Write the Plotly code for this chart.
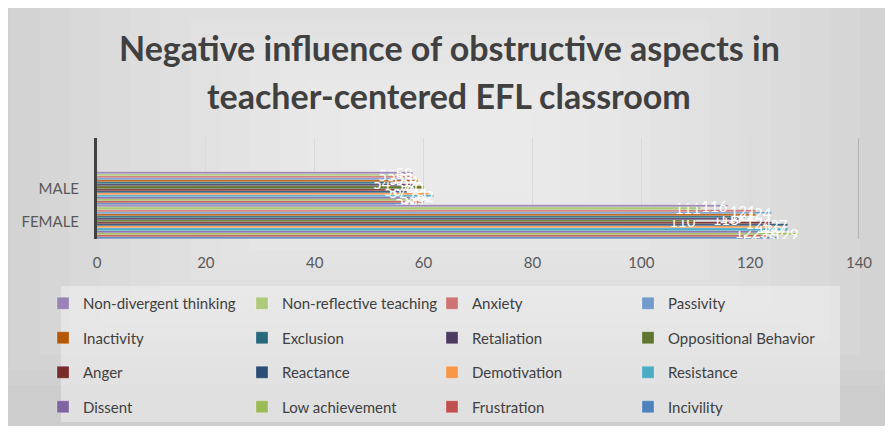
import plotly.graph_objects as go

# ---------------- data ----------------
categories = ["FEMALE", "MALE"]  # bottom to top
series = ["Incivility", "Frustration", "Low achievement", "Dissent", "Resistance",
          "Demotivation", "Reactance", "Anger", "Oppositional Behavior", "Retaliation",
          "Exclusion", "Inactivity", "Passivity", "Anxiety", "Non-reflective teaching",
          "Non-divergent thinking"]
female_values = [125, 123, 129, 122, 127, 126, 127, 124, 110, 118, 119, 121, 124, 121, 111, 116]
male_values = [59, 60, 58, 59, 62, 61, 57, 56, 60, 58, 54, 59, 57, 58, 55, 58]
colors = ["#4F81BD", "#C0504D", "#9BBB59", "#8064A2", "#4BACC6", "#F79646",
          "#2C4D75", "#772C2A", "#5F7530", "#4D3B62", "#276A7C", "#B65708",
          "#729ACA", "#CD7371", "#AFC97A", "#9983B5"]
x_ticks = [0, 20, 40, 60, 80, 100, 120, 140]
title_lines = ["Negative influence of obstructive aspects in", "teacher-centered EFL classroom"]

# ---------------- layout geometry ----------------
OFF = 8                      # page body margin
W, H = 893 - OFF, 432 - OFF  # figure size
# plot area in screen pixels -> figure pixels
L, R, T, B = 97 - OFF, 859 - OFF, 138 - OFF, 239 - OFF


def px_x(sx):
    return (sx - OFF - L) / (R - L)


def px_y(sy):
    return (B - (sy - OFF)) / (B - T)


legend_names = ["legend", "legend2", "legend3", "legend4"]
legend_item_x = [35, 234, 424, 620]   # figure px of legend item start

fig = go.Figure()
n = len(series)
for i, name in enumerate(series):
    col = 3 - (i % 4)
    fig.add_trace(go.Bar(
        name=name,
        y=categories,
        x=[female_values[i], male_values[i]],
        orientation="h",
        marker=dict(color=colors[i], line=dict(width=0.5, color="rgba(255,255,255,0.5)")),
        text=[female_values[i], male_values[i]],
        textposition="inside",
        insidetextanchor="end",
        constraintext="none",
        textangle=0,
        textfont=dict(color="white", size=15, family="Lato"),
        legend=legend_names[col],
        legendgroup=name,
        legendrank=n - i,
    ))

shapes = []
# gray gradient background
shapes.append(dict(type="rect", xref="paper", yref="paper", layer="below",
                   x0=px_x(0), x1=px_x(886), y0=px_y(426), y1=px_y(OFF),
                   fillcolor="#cdcdcd", line=dict(width=0)))
cx, cy = 450, 150
for k in range(14):
    hw = 470 - k * 30
    hh = 235 - k * 15
    shapes.append(dict(type="rect", xref="paper", yref="paper", layer="below",
                       x0=px_x(max(OFF, cx - hw)), x1=px_x(min(886, cx + hw)),
                       y0=px_y(min(426, cy + hh)), y1=px_y(max(OFF, cy - hh)),
                       fillcolor="rgba(255,255,255,0.075)", line=dict(width=0)))
# legend box
shapes.append(dict(type="rect", xref="paper", yref="paper", layer="below",
                   x0=px_x(61), x1=px_x(840), y0=px_y(422), y1=px_y(286),
                   fillcolor="rgba(240,240,240,0.55)", line=dict(width=0)))
# right edge gridline darker
shapes.append(dict(type="line", xref="x", yref="paper", layer="below",
                   x0=x_ticks[-1], x1=x_ticks[-1], y0=0, y1=1,
                   line=dict(color="#a6a6a6", width=1.5)))

annotations = []
for txt, sy in zip(title_lines, [47, 95]):
    annotations.append(dict(text=txt, xref="paper", yref="paper", x=px_x(449), y=px_y(sy),
                            xanchor="center", yanchor="middle", showarrow=False,
                            font=dict(family="Lato", size=34, color="#404040", weight="bold")))

layout_legends = {}
for c, lname in enumerate(legend_names):
    layout_legends[lname] = dict(
        x=legend_item_x[c] / W, xref="container", xanchor="left",
        y=1 - 279 / H, yref="container", yanchor="top",
        orientation="v", traceorder="grouped", tracegroupgap=12,
        bgcolor="rgba(0,0,0,0)", borderwidth=0,
        font=dict(family="Lato", size=15, color="#404040"),
    )

fig.update_layout(
    width=W, height=H,
    margin=dict(l=L, r=W - R, t=T, b=H - B, pad=0, autoexpand=False),
    paper_bgcolor="white",
    plot_bgcolor="rgba(0,0,0,0)",
    barmode="group", bargap=0.0, bargroupgap=0.0,
    showlegend=True,
    shapes=shapes,
    annotations=annotations,
    font=dict(family="Lato", color="#595959"),
    xaxis=dict(range=[x_ticks[0], x_ticks[-1]], tickvals=x_ticks, showgrid=True,
               gridcolor="#d9d9d9", gridwidth=1, zeroline=False, showline=False,
               ticks="", ticklabelstandoff=13, automargin=False,
               tickfont=dict(family="Lato", size=15, color="#595959")),
    yaxis=dict(type="category", categoryorder="array", categoryarray=categories,
               range=[-0.5, 2.5], showgrid=False, zeroline=False, automargin=False,
               showline=True, linecolor="#404040", linewidth=3, ticks="",
               ticklabelstandoff=12,
               tickfont=dict(family="Lato", size=15, color="#595959")),
    **layout_legends,
)

fig.write_html("out.html")
